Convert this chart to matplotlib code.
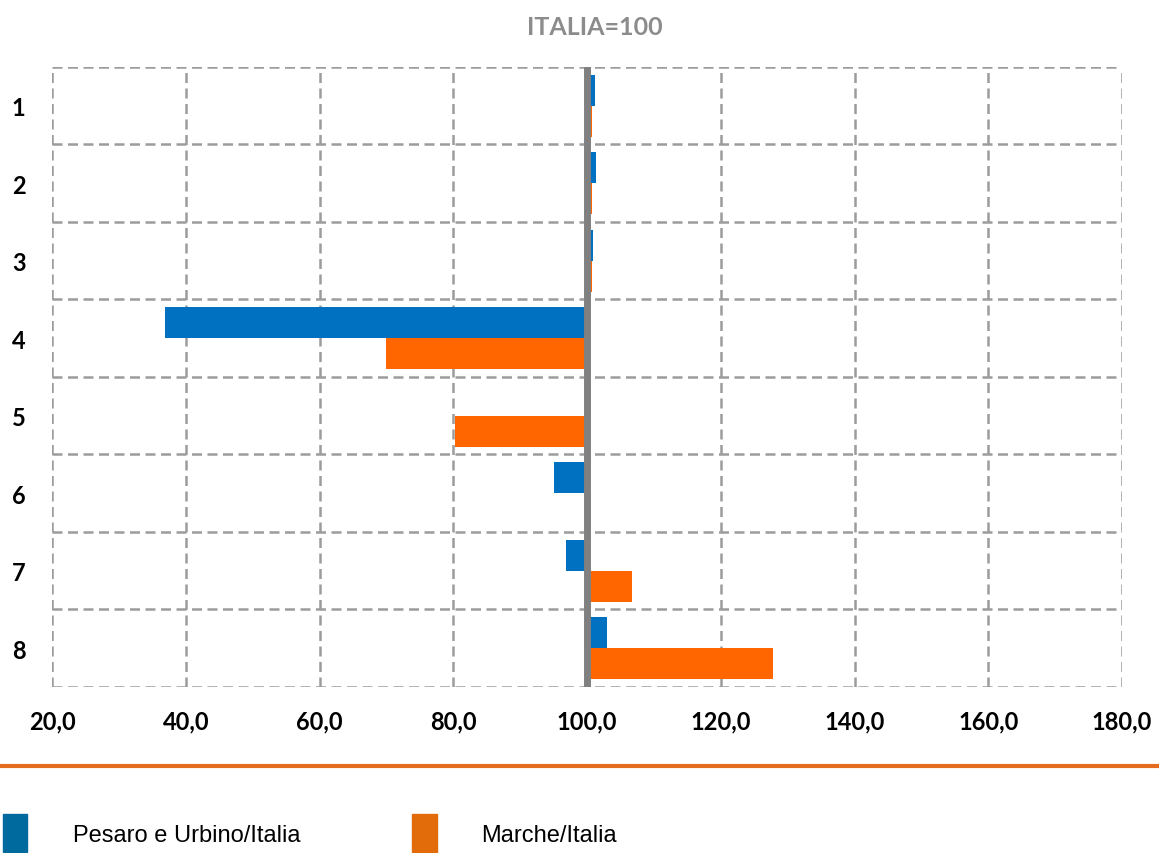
import matplotlib
matplotlib.use("Agg")
import matplotlib.pyplot as plt
import matplotlib.patches as mpatches
from matplotlib.lines import Line2D
import numpy as np

# data (ITALIA = 100)
categories = ["1", "2", "3", "4", "5", "6", "7", "8"]
pesaro = [101.2, 101.4, 100.9, 36.9, 100.0, 95.1, 96.9, 103.0]
marche = [100.8, 100.8, 100.8, 69.9, 80.3, 100.0, 106.7, 127.8]
x_ticks = [20, 40, 60, 80, 100, 120, 140, 160, 180]

blue = "#0070C0"
orange = "#FF6600"
grid_col = "#9C9C9C"
font = ["Lato", "DejaVu Sans"]

fig = plt.figure(figsize=(11.59, 8.54), dpi=100)
ax = fig.add_axes([0.0449, 0.1944, 0.9232, 0.726])

n = len(categories)
y = np.arange(n)
h = 0.4

# bars grow from the 100 baseline
ax.barh(y - h / 2, np.array(pesaro) - 100, left=100, height=h, color=blue, zorder=3)
ax.barh(y + h / 2, np.array(marche) - 100, left=100, height=h, color=orange, zorder=3)

ax.set_xlim(20, 180)
ax.set_ylim(n - 0.5, -0.5)

# dashed grid incl. frame
for xv in x_ticks:
    ax.axvline(xv, color=grid_col, lw=1.8, ls=(0, (4, 2.2)), zorder=1)
for yb in np.arange(-0.5, n, 1.0):
    ax.axhline(yb, color=grid_col, lw=1.8, ls=(0, (4, 2.2)), zorder=1)
ax.axvline(100, color="#808080", lw=5, zorder=4)

for s in ax.spines.values():
    s.set_visible(False)

ax.set_xticks(x_ticks)
ax.set_xticklabels([f"{v:.1f}".replace(".", ",") for v in x_ticks],
                   fontsize=17, fontweight="bold", family=font)
ax.set_yticks(y)
ax.set_yticklabels(categories, fontsize=17, fontweight="bold", family=font)
ax.tick_params(axis="both", length=0)
ax.tick_params(axis="x", pad=16)
ax.tick_params(axis="y", pad=19)

fig.text(0.513, 0.968, "ITALIA=100", ha="center", va="center", fontsize=18,
         fontweight="bold", color="#8C8C8C", family=font)

# orange separator line
fig.add_artist(Line2D([0, 1], [1 - 767 / 854, 1 - 767 / 854], color="#E46C1F", lw=3,
                      transform=fig.transFigure))

# legend
fig.add_artist(mpatches.Rectangle((3 / 1159, 1 - 853 / 854), 24 / 1159, 38 / 854,
                                  color="#00699E", transform=fig.transFigure))
fig.add_artist(mpatches.Rectangle((412 / 1159, 1 - 853 / 854), 25 / 1159, 38 / 854,
                                  color="#E36C0A", transform=fig.transFigure))
leg_font = ["Liberation Sans Narrow", "Liberation Sans", "DejaVu Sans"]
fig.text(73 / 1159, 1 - 836 / 854, "Pesaro e Urbino/Italia", ha="left", va="center",
         fontsize=17, family=leg_font)
fig.text(481 / 1159, 1 - 836 / 854, "Marche/Italia", ha="left", va="center",
         fontsize=17, family=leg_font)

fig.savefig("out.png", dpi=100)
